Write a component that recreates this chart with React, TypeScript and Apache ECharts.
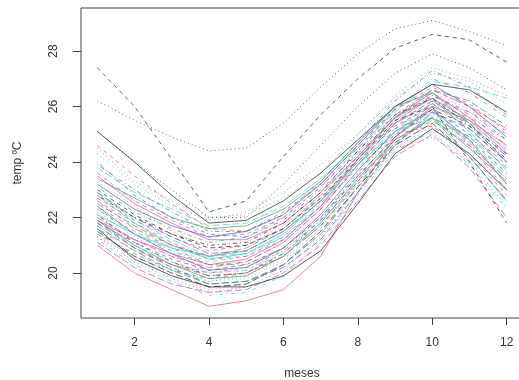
import React, { useEffect, useRef } from "react";
import * as echarts from "echarts";

const months = [1, 2, 3, 4, 5, 6, 7, 8, 9, 10, 11, 12];
const xTicks = [2, 4, 6, 8, 10, 12];
const yTicks = [20, 22, 24, 26, 28];

// Temperature series (one per station)
const s00 = [25.1, 24.0, 22.8, 21.8, 21.9, 22.6, 23.6, 24.8, 26.0, 26.8, 26.6, 25.8];
const s01 = [24.6, 23.5, 22.5, 21.6, 21.5, 22.2, 23.2, 24.6, 25.9, 26.6, 26.0, 25.2];
const s02 = [24.3, 23.2, 22.4, 21.9, 22.2, 22.9, 23.9, 25.0, 26.3, 27.2, 26.9, 26.1];
const s03 = [24.0, 22.8, 22.0, 21.4, 21.3, 21.9, 23.0, 24.3, 25.6, 26.4, 25.8, 24.8];
const s04 = [23.8, 22.9, 22.3, 21.7, 21.8, 22.4, 23.4, 24.5, 25.8, 26.9, 26.7, 26.3];
const s05 = [23.5, 22.5, 21.8, 21.2, 21.2, 21.8, 22.9, 24.2, 25.6, 26.5, 25.6, 24.4];
const s06 = [27.4, 26.0, 24.1, 22.2, 22.6, 24.2, 25.7, 27.0, 28.1, 28.6, 28.4, 27.6];
const s07 = [23.3, 22.4, 21.5, 20.9, 21.0, 21.7, 22.8, 24.3, 25.7, 26.5, 25.9, 25.0];
const s08 = [23.1, 22.2, 21.6, 21.1, 21.3, 22.0, 23.1, 24.4, 25.9, 27.0, 26.5, 25.6];
const s09 = [22.9, 22.0, 21.3, 20.7, 20.8, 21.5, 22.6, 24.1, 25.4, 26.2, 25.4, 24.2];
const s10 = [22.8, 21.8, 21.0, 20.5, 20.7, 21.4, 22.6, 24.0, 25.5, 26.3, 25.1, 23.7];
const s11 = [22.7, 21.9, 21.3, 20.8, 21.0, 21.6, 22.7, 24.0, 25.3, 26.0, 24.6, 23.0];
const s12 = [26.2, 25.5, 24.9, 24.4, 24.5, 25.4, 26.7, 27.9, 28.8, 29.1, 28.7, 28.2];
const s13 = [22.6, 21.6, 20.9, 20.3, 20.4, 21.1, 22.3, 23.9, 25.4, 26.4, 25.7, 24.6];
const s14 = [22.5, 21.7, 21.0, 20.6, 20.9, 21.6, 22.8, 24.2, 25.6, 26.6, 26.2, 25.3];
const s15 = [22.4, 21.4, 20.7, 20.1, 20.2, 20.9, 22.1, 23.7, 25.1, 25.9, 24.8, 23.2];
const s16 = [22.3, 21.5, 20.9, 20.4, 20.6, 21.3, 22.5, 24.0, 25.3, 25.8, 24.9, 23.6];
const s17 = [22.2, 21.3, 20.6, 20.0, 20.1, 20.8, 22.0, 23.6, 25.0, 25.7, 24.6, 23.4];
const s18 = [22.1, 21.1, 20.4, 19.9, 20.0, 20.7, 21.9, 23.5, 24.9, 25.9, 25.3, 24.1];
const s19 = [22.0, 21.2, 20.6, 20.2, 20.4, 21.1, 22.3, 23.9, 25.4, 26.1, 25.2, 24.0];
const s20 = [21.9, 21.0, 20.3, 19.8, 19.9, 20.6, 21.8, 23.4, 24.8, 25.6, 24.5, 23.3];
const s21 = [21.8, 21.1, 20.5, 20.1, 20.3, 20.9, 22.0, 23.5, 24.9, 25.9, 25.0, 23.9];
const s22 = [21.7, 20.9, 20.2, 19.7, 19.8, 20.4, 21.6, 23.2, 24.7, 25.5, 24.4, 22.9];
const s23 = [21.6, 20.8, 20.3, 20.0, 20.2, 20.8, 21.9, 23.3, 24.8, 26.2, 25.8, 25.0];
const s24 = [21.5, 20.6, 20.0, 19.5, 19.6, 20.3, 21.5, 23.1, 24.6, 25.4, 24.2, 22.6];
const s25 = [21.0, 20.0, 19.4, 18.8, 19.0, 19.4, 20.6, 22.9, 24.9, 26.0, 25.5, 24.6];
const s26 = [21.4, 20.7, 20.1, 19.8, 20.0, 20.6, 21.7, 23.2, 24.7, 25.6, 24.8, 23.6];
const s27 = [21.3, 20.4, 19.8, 19.3, 19.5, 20.1, 21.3, 22.9, 24.5, 25.3, 24.0, 22.4];
const s28 = [21.2, 20.3, 19.7, 19.2, 19.3, 19.9, 21.1, 22.8, 24.4, 25.1, 23.9, 22.3];
const s29 = [21.1, 20.2, 19.6, 19.3, 19.4, 20.0, 21.0, 22.6, 24.2, 25.0, 23.8, 22.0];
const s30 = [21.6, 20.5, 19.9, 19.5, 19.5, 19.9, 20.8, 22.5, 24.3, 25.2, 24.3, 23.0];
const s31 = [22.6, 21.8, 21.1, 20.5, 20.6, 21.2, 22.4, 23.8, 25.0, 25.3, 24.3, 22.8];
const s32 = [24.5, 23.3, 22.6, 22.0, 22.1, 22.7, 23.6, 25.0, 26.4, 27.4, 27.0, 26.4];
const s33 = [23.9, 23.0, 22.2, 21.5, 21.5, 22.1, 23.3, 24.7, 26.2, 27.3, 26.7, 25.7];
const s34 = [22.9, 21.9, 21.2, 20.6, 20.7, 21.3, 22.4, 23.9, 25.2, 25.8, 24.7, 23.5];
const s35 = [21.9, 21.2, 20.7, 20.3, 20.5, 21.2, 22.4, 24.1, 25.6, 26.3, 25.5, 24.3];
const s36 = [23.0, 22.1, 21.4, 20.9, 21.0, 21.6, 22.7, 24.1, 25.5, 26.0, 24.0, 21.8];
const s37 = [21.4, 20.5, 19.9, 19.4, 19.6, 20.3, 21.4, 23.0, 24.5, 24.9, 24.0, 22.7];
const s38 = [22.3, 21.4, 20.8, 20.3, 20.3, 20.9, 22.0, 23.6, 25.2, 26.1, 25.6, 24.8];
const s39 = [21.8, 20.9, 20.2, 19.6, 19.7, 20.2, 21.2, 22.9, 24.6, 25.8, 25.2, 24.0];
const s40 = [22.1, 21.4, 20.9, 20.6, 20.8, 21.5, 22.6, 23.9, 25.1, 25.6, 24.2, 22.6];
const s41 = [23.6, 22.6, 21.9, 21.3, 21.4, 22.0, 23.1, 24.5, 25.9, 26.7, 26.1, 25.1];
const s42 = [25.1, 24.0, 23.0, 22.0, 22.0, 23.2, 24.6, 26.0, 27.2, 27.9, 27.4, 26.6];
const s43 = [22.4, 21.6, 21.0, 20.6, 20.8, 21.5, 22.6, 24.2, 25.7, 26.6, 26.0, 25.2];
const s44 = [21.7, 20.8, 20.1, 19.6, 19.7, 20.3, 21.4, 23.1, 24.7, 25.6, 24.9, 23.8];
const s45 = [23.2, 22.3, 21.7, 21.3, 21.5, 22.1, 23.2, 24.6, 26.0, 26.8, 26.0, 24.9];
const s46 = [22.0, 21.0, 20.4, 20.0, 20.1, 20.7, 21.8, 23.4, 25.0, 26.0, 25.4, 24.5];
const s47 = [21.3, 20.6, 20.1, 19.7, 19.9, 20.5, 21.6, 23.3, 24.9, 25.8, 24.7, 23.2];
const s48 = [22.8, 22.0, 21.4, 21.0, 21.1, 21.8, 22.9, 24.4, 25.7, 26.3, 25.3, 24.3];
const s49 = [21.9, 20.9, 20.3, 19.9, 20.0, 20.6, 21.7, 23.3, 24.8, 25.5, 24.6, 23.4];
const s50 = [23.4, 22.7, 22.0, 21.6, 21.7, 22.3, 23.3, 24.7, 26.0, 26.5, 25.4, 24.0];

const allSeries = [
  s00, s01, s02, s03, s04, s05, s06, s07, s08, s09, s10, s11, s12, s13, s14,
  s15, s16, s17, s18, s19, s20, s21, s22, s23, s24, s25, s26, s27, s28, s29,
  s30, s31, s32, s33, s34, s35, s36, s37, s38, s39, s40, s41, s42, s43, s44,
  s45, s46, s47, s48, s49, s50,
];

// R matplot defaults: col = 1:6, lty = 1:5 (colours muted like the photo)
const palette = ["#1a1a1a", "#D9506E", "#2E9E6A", "#4A5BB5", "#3FC9C3", "#C24FA8"];
const dashes: any[] = ["solid", [4, 4], [1, 3], [1, 3, 4, 3], [7, 3]];

export default function App() {
  const ref = useRef<HTMLDivElement>(null);
  useEffect(() => {
    if (!ref.current) return;
    const chart = echarts.init(ref.current, undefined, { renderer: "svg" });
    const font = "Liberation Sans, Arial, sans-serif";
    chart.setOption({
      animation: false,
      grid: {
        left: 81,
        top: 8,
        width: 442,
        height: 310,
        show: true,
        borderColor: "#404040",
        borderWidth: 1,
        backgroundColor: "transparent",
        containLabel: false,
        outerBoundsMode: "none",
      },
      xAxis: {
        type: "value",
        min: 0.56,
        max: 12.44,
        name: "meses",
        nameLocation: "middle",
        nameGap: 49,
        nameTextStyle: { fontFamily: font, fontSize: 12, color: "#333" },
        axisLine: { show: false },
        splitLine: { show: false },
        axisTick: {
          show: true,
          customValues: xTicks,
          length: 7,
          lineStyle: { color: "#404040" },
        },
        axisLabel: {
          customValues: xTicks,
          margin: 18,
          fontFamily: font,
          fontSize: 12,
          color: "#333",
        },
      },
      yAxis: {
        type: "value",
        min: 18.38,
        max: 29.55,
        name: "temp ºC",
        nameLocation: "middle",
        nameGap: 58,
        nameTextStyle: { fontFamily: font, fontSize: 12, color: "#333" },
        axisLine: { show: false },
        splitLine: { show: false },
        axisTick: {
          show: true,
          customValues: yTicks,
          length: 8,
          lineStyle: { color: "#404040" },
        },
        axisLabel: {
          customValues: yTicks,
          rotate: 90,
          margin: 22,
          fontFamily: font,
          fontSize: 12,
          color: "#333",
        },
      },
      series: allSeries.map((vals, i) => ({
        type: "line",
        data: vals.map((v, j) => [months[j], v]),
        showSymbol: false,
        symbol: "none",
        silent: true,
        lineStyle: {
          color: palette[i % 6],
          type: dashes[i % 5],
          width: 1,
          opacity: 0.7,
        },
      })),
    });
    return () => chart.dispose();
  }, []);
  return (
    <div
      ref={ref}
      style={{ position: "fixed", left: 0, top: 0, width: 519, height: 380 }}
    />
  );
}
